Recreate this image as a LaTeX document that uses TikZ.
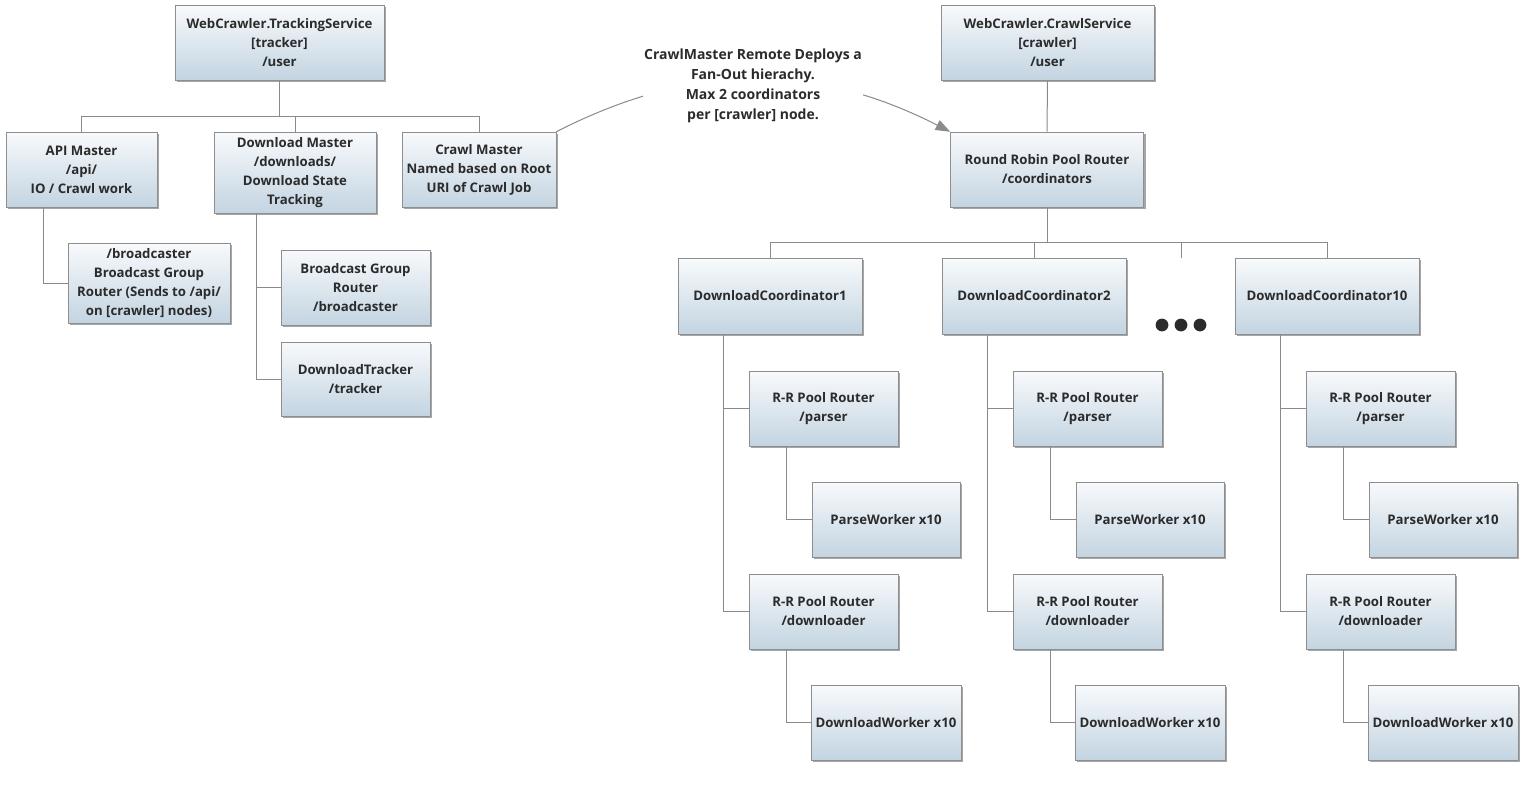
\documentclass[tikz,border=0pt]{standalone}
\usepackage{fontspec}
\setmainfont{Open Sans}
\usepackage{tikz}
\usetikzlibrary{positioning, shadows, arrows.meta}
\definecolor{boxtop}{HTML}{F8FAFC}
\definecolor{boxbot}{HTML}{C3D4E1}
\definecolor{boxline}{HTML}{8E8E8E}
\definecolor{wiregray}{HTML}{8A8A8A}
\definecolor{ink}{HTML}{2B2B2B}

\begin{document}
\begin{tikzpicture}[x=0.75pt, y=-0.75pt,
  box/.style 2 args={draw=boxline, top color=boxtop, bottom color=boxbot,
    minimum width=#1*0.75pt, minimum height=#2*0.75pt, align=center, text=ink,
    inner sep=0pt, font=\bfseries\fontsize{9.9}{14.25}\selectfont,
    drop shadow={shadow xshift=1.5pt, shadow yshift=-1.5pt, opacity=0.35, fill=black}},
  wire/.style={draw=wiregray, line width=0.75pt},
  note/.style={fill=white, align=center, text=ink, inner sep=1pt,
    font=\bfseries\fontsize{10.5}{15}\selectfont}]
\useasboundingbox (0,0) rectangle (1528,790);
% tracker side
\node[box={209}{75}] (ts) at (279.5,42.5) {WebCrawler.TrackingService\\{[tracker]}\\/user};
\node[box={151}{75}] (api) at (81.5,169.5) {API Master\\/api/\\IO / Crawl work};
\node[box={162}{81}] (dm) at (295,172.5) {Download Master\\/downloads/\\Download State\\Tracking};
\node[box={154}{75}] (cm) at (479,169.5) {Crawl Master\\Named based on Root\\URI of Crawl Job};
\node[box={162}{80}] (bc) at (149,283) {/broadcaster\\Broadcast Group\\Router (Sends to /api/\\on [crawler] nodes)};
\node[box={149}{75}] (bg) at (355.5,287.5) {Broadcast Group\\Router\\/broadcaster};
\node[box={149}{74}] (dt) at (355.5,379) {DownloadTracker\\/tracker};
\draw[wire] (ts.south) -- ++(0,37);
\draw[wire] (api.north) -- ++(0,-15) -| (cm.north);
\draw[wire] (dm.north) -- ++(0,-15);
\draw[wire] (api.south) ++(-38,0) |- (bc.west);
\draw[wire] (dm.south) ++(-39,0) |- (bg.west);
\draw[wire] (dm.south) ++(-39,0) |- (dt.west);
% crawler side
\node[box={213}{75}] (cs) at (1047.5,42.5) {WebCrawler.CrawlService\\{[crawler]}\\/user};
\node[box={193}{75}] (rr) at (1047,169.5) {Round Robin Pool Router\\/coordinators};
\draw[wire] (cs.south) -- (rr.north);
% one column per coordinator
\foreach \i/\cx/\n in {1/770/1, 2/1034/2, 3/1327/10} {
  \node[box={184}{76}] (dc\i) at (\cx,296) {DownloadCoordinator\n};
  \node[box={149}{75}] (pr\i) at (\cx+53.5,408.5) {R-R Pool Router\\/parser};
  \node[box={148}{75}] (pw\i) at (\cx+116,519.5) {ParseWorker x10};
  \node[box={149}{75}] (dr\i) at (\cx+53.5,611.5) {R-R Pool Router\\/downloader};
  \node[box={150}{75}] (dw\i) at (\cx+116,722.5) {DownloadWorker x10};
  \draw[wire] (dc\i.south) ++(-47,0) |- (pr\i.west);
  \draw[wire] (dc\i.south) ++(-47,0) |- (dr\i.west);
  \draw[wire] (pr\i.south) ++(-37,0) |- (pw\i.west);
  \draw[wire] (dr\i.south) ++(-37,0) |- (dw\i.west);
}
\draw[wire] (rr.south) -- ++(0,36);
\draw[wire] (dc1.north) -- ++(0,-15) -| (dc3.north);
\draw[wire] (dc2.north) -- ++(0,-15);
\coordinate (more) at (1181,258);
\draw[wire] (more) -- ++(0,-15);
\foreach \dx in {-19,0,19} \fill[ink] ([xshift=\dx*0.75pt]more) ++(0,67) circle (4.8pt);
% remote deploy note
\draw[wire, -{Triangle[length=11pt, width=8pt]}] (cm.north east) to[bend left=27] (rr.north west);
\node[note] (note) at (753,85.5) {CrawlMaster Remote Deploys a\\Fan-Out hierachy.\\Max 2 coordinators\\per [crawler] node.};
\end{tikzpicture}
\end{document}
